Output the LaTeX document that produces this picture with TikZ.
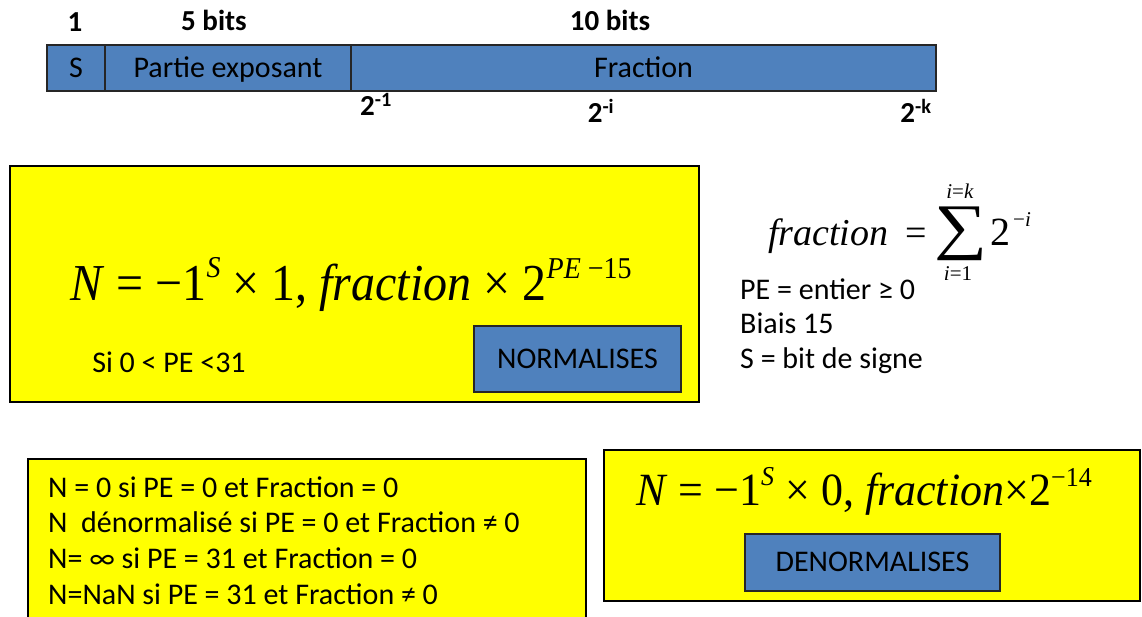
\documentclass[tikz,border=0pt]{standalone}
\usepackage{fontspec}
\setmainfont{Carlito}
\newfontfamily\tnr{Liberation Serif}
\usetikzlibrary{positioning}
\definecolor{barblue}{HTML}{4F81BD}
\definecolor{boxyellow}{HTML}{FFFF00}
\newcommand{\fsz}[1]{\fontsize{#1}{#1}\selectfont}
% exposant : hauteur, taille, texte
\newcommand{\expo}[3]{\raisebox{#1}{\fsz{#2}#3}}

\begin{document}
\begin{tikzpicture}[x=1pt,y=-1pt,
    field/.style={draw=black!85,line width=1.2pt,fill=barblue,
      minimum height=46pt,inner sep=0pt,outer sep=0pt,font=\fsz{30},
      text height=21pt,text depth=3pt},
    ybox/.style={draw=black,line width=1.8pt,fill=boxyellow,inner sep=0pt},
    tag/.style={draw=black!85,line width=1.2pt,fill=barblue,
      inner sep=0pt,font=\fsz{30},text height=21pt,text depth=3pt},
    bitlbl/.style={font=\fsz{29}\bfseries,inner sep=0pt},
    txt/.style={font=\fsz{30},inner sep=0pt,anchor=base west},
    eq/.style={inner sep=0pt,anchor=base west}]
  \useasboundingbox (0,0) rectangle (1142,616);
  \clip (0,0) rectangle (1142,616);

  % format du mot
  \node[field,minimum width=58pt] (sgn) at (76,68) {S};
  \node[field,minimum width=246pt,right=0pt of sgn] (expo) {Partie exposant};
  \node[field,minimum width=585pt,right=0pt of expo] (frac) {Fraction};
  \node[bitlbl] (w1) at (75,22) {1};
  \node[bitlbl] (w5) at (214,20) {5 bits};
  \node[bitlbl] (w10) at (610,20) {10 bits};
  \node[bitlbl] (pfirst) at (376,104) {2\textsuperscript{-1}};
  \node[bitlbl] (pmid) at (601,111) {2\textsuperscript{-i}};
  \node[bitlbl] (plast) at (916,111) {2\textsuperscript{-k}};

  % normalises
  \node[ybox,minimum width=689pt,minimum height=236pt] (norm) at (354.5,284) {};
  \node[eq,font=\tnr\fsz{48}] (normeq) at (70,300)
    {\scalebox{1}[1.08]{\textit{N} = −1\expo{21pt}{28}{\textit{S}} × 1, \textit{fraction}
      × 2\expo{20pt}{28}{\textit{PE} −15}}};
  \node[inner sep=0pt,font=\fsz{30}] (normcond) at (169,362) {Si 0 < PE <31};
  \node[tag,minimum width=207pt,minimum height=66pt] (normtag) at (577.5,359)
    {NORMALISES};

  % definitions
  \node[eq,font=\tnr\fsz{38}] (fraceq) at (768,245) {\textit{fraction}\hspace{0.45em}=};
  \node[inner sep=0pt,font=\tnr\fsz{62}] (fracsum) at (961,234) {\scalebox{1.2}[1]{∑}};
  \node[inner sep=0pt,font=\tnr\fsz{21}] (sumtop) at (960,191) {\textit{i}=\textit{k}};
  \node[inner sep=0pt,font=\tnr\fsz{21}] (sumbot) at (958,274) {\textit{i}=1};
  \node[eq,font=\tnr\fsz{40}] (fractwo) at (990,245) {2};
  \node[eq,font=\tnr\fsz{21}] (fracexp) at (1013,226) {−\textit{i}};
  \foreach \line [count=\k] in {PE = entier ≥ 0,Biais 15,S = bit de signe}
    \node[txt] (info\k) at (740,{299+34.5*(\k-1)}) {\line};

  % cas particuliers
  \node[ybox,minimum width=558pt,minimum height=190pt,anchor=north west]
    (cases) at (27,458) {};
  \foreach \line [count=\k] in {N = 0 si PE = 0 et Fraction = 0,
      N\ \ dénormalisé si PE = 0 et Fraction ≠ 0,
      N= ∞ si PE = 31 et Fraction = 0,
      N=NaN si PE = 31 et Fraction ≠ 0}
    \node[txt] (case\k) at (48,{497+35.7*(\k-1)}) {\line};

  % denormalises
  \node[ybox,minimum width=536pt,minimum height=151pt] (denorm) at (872,525.5) {};
  \node[eq,font=\tnr\fsz{44}] (denormeq) at (636,505)
    {\scalebox{1}[1.05]{\textit{N} = −1\expo{19pt}{26}{\textit{S}} × 0, \textit{fraction}×2\expo{18pt}{26}{−14}}};
  \node[tag,minimum width=255pt,minimum height=57pt] (denormtag) at (872.5,562.5)
    {DENORMALISES};
\end{tikzpicture}
\end{document}
